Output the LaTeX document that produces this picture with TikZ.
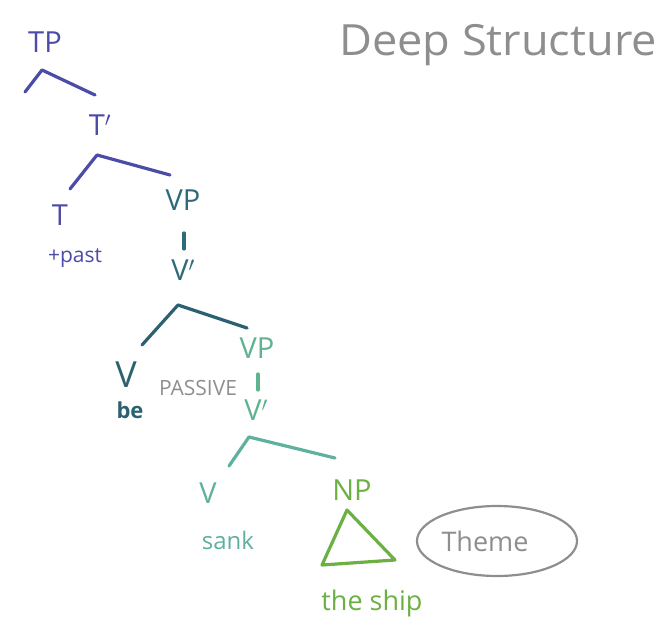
\documentclass[tikz,border=0pt]{standalone}
\usepackage{fontspec}
\setmainfont{Open Sans}
\usetikzlibrary{shapes.geometric}
\definecolor{cblue}{HTML}{4B4BA8}
\definecolor{cteal}{HTML}{2E6A78}
\definecolor{cdteal}{HTML}{2B6170}
\definecolor{cmint}{HTML}{5DB48E}
\definecolor{cmint2}{HTML}{5FB09E}
\definecolor{cgreen}{HTML}{6CB043}
\definecolor{cgray}{HTML}{8E8E8E}
\tikzset{
  lab/.style={inner sep=0pt, font=\fontsize{29}{31}\selectfont},
  small/.style={inner sep=0pt, font=\fontsize{21}{23}\selectfont},
  br/.style={line width=3.2pt, line cap=round, line join=round},
}
\begin{document}
\begin{tikzpicture}[x=1pt,y=-1pt]
\useasboundingbox (0,0) rectangle (666,620);
\node[lab, cgray, font=\fontsize{43}{45}\selectfont, xscale=1.05] (title) at (498,45) {Deep Structure};
% TP
\node[lab, cblue] (tp) at (45,42) {TP};
\coordinate (tpa) at (42,70);
\coordinate (tpl) at (25,92);
\coordinate (tpr) at (95,95);
\draw[br, cblue] (tpl) -- (tpa) -- (tpr);
\node[lab, cblue] (tbar) at (100,125) {T$'$};
\coordinate (tba) at (97,155);
\coordinate (tbl) at (70,189);
\coordinate (tbr) at (170,175);
\draw[br, cblue] (tbl) -- (tba) -- (tbr);
\node[lab, cblue] (t) at (60,215) {T};
\node[small, cblue] (past) at (75,258) {+past};
% VP
\node[lab, cteal] (vp1) at (183,200) {VP};
\node[lab, cteal] (vbar1) at (183,270) {V$'$};
\draw[br, cteal] (184,233) coordinate (vpa) -- (184,249) coordinate (vpb);
\coordinate (v1a) at (178,305);
\coordinate (v1l) at (142,345);
\coordinate (v1r) at (247,328);
\draw[br, cdteal] (v1l) -- (v1a) -- (v1r);
\node[lab, cdteal, font=\fontsize{36}{38}\selectfont] (v1) at (126,375) {V};
\node[small, cdteal, font=\bfseries\fontsize{22}{24}\selectfont] (be) at (130,410) {be};
\node[small, cgray, font=\fontsize{21}{23}\selectfont] (passive) at (198,388) {PASSIVE};
% lower VP
\node[lab, cmint] (vp2) at (257,348) {VP};
\draw[br, cmint] (258,374) coordinate (vp2a) -- (258,390) coordinate (vp2b);
\node[lab, cmint] (vbar2) at (256,410) {V$'$};
\coordinate (v2a) at (249,437);
\coordinate (v2l) at (229,466);
\coordinate (v2r) at (335,458);
\draw[br, cmint2] (v2l) -- (v2a) -- (v2r);
\node[lab, cmint2] (v2) at (208,493) {V};
\node[small, cmint2, font=\fontsize{24}{26}\selectfont] (sank) at (228,540) {sank};
% NP
\node[lab, cgreen] (np) at (352,490) {NP};
\coordinate (ta) at (347,510);
\coordinate (tl) at (322,565);
\coordinate (tr) at (395,560);
\draw[br, cgreen] (ta) -- (tl) -- (tr) -- cycle;
\node[small, cgreen, font=\fontsize{27}{29}\selectfont] (ship) at (372,603) {the ship};
% Theme
\node[draw=cgray, line width=2.2pt, ellipse, minimum width=160pt, minimum height=70pt, inner sep=0pt] (themee) at (497,541) {};
\node[small, cgray, font=\fontsize{27}{29}\selectfont] (theme) at (485,541) {Theme};
\end{tikzpicture}
\end{document}
